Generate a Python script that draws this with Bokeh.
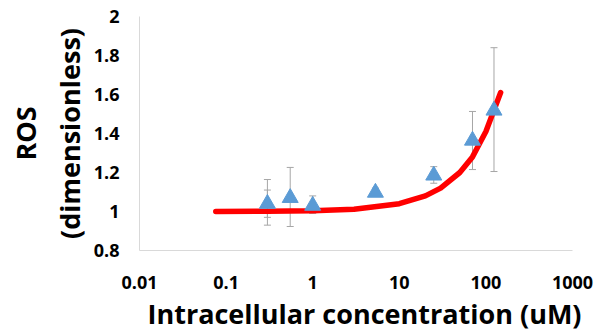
from bokeh.plotting import figure
from bokeh.models import ColumnDataSource, Whisker, TeeHead, FixedTicker, Title
from bokeh.embed import file_html
from bokeh.resources import INLINE

conc = [0.3, 0.55, 1.0, 5.3, 25, 70, 124]
ros = [1.04, 1.07, 1.03, 1.097, 1.185, 1.364, 1.518]
err_hi = [1.164, 1.226, 1.08, 1.12, 1.23, 1.513, 1.84]
err_lo = [0.93, 0.923, 0.99, 1.08, 1.145, 1.215, 1.205]
# second (inner) error bar at the first point
conc2 = [0.3]
err2_hi = [1.11]
err2_lo = [0.97]

# fitted model curve
fit_x = [0.076, 0.3, 1, 3, 10, 20, 30, 50, 70, 100, 148]
fit_y = [1.0, 1.001, 1.004, 1.012, 1.04, 1.08, 1.12, 1.2, 1.28, 1.41, 1.61]

x_ticks = [0.01, 0.1, 1, 10, 100, 1000]
y_ticks = [0.8, 1.0, 1.2, 1.4, 1.6, 1.8, 2.0]

FONT = "Open Sans"

p = figure(width=596, height=335, x_axis_type="log",
           x_range=(0.01, 1000), y_range=(0.8, 2.0),
           frame_width=433, frame_height=234,
           min_border_left=139, min_border_right=24,
           min_border_top=16, min_border_bottom=85,
           output_backend="svg", toolbar_location=None)
p.outline_line_color = None
p.xgrid.visible = False
p.ygrid.visible = False
p.background_fill_color = "white"

for ax in (p.xaxis[0], p.yaxis[0]):
    ax.axis_line_color = "#D9D9D9"
    ax.axis_line_width = 1
    ax.major_tick_line_color = None
    ax.minor_tick_line_color = None
    ax.major_tick_out = 0
    ax.major_tick_in = 0
    ax.minor_tick_out = 0
    ax.minor_tick_in = 0
    ax.major_label_text_font = FONT
    ax.major_label_text_font_style = "bold"
    ax.major_label_text_font_size = "18px"
    ax.major_label_text_color = "#000000"

p.xaxis.ticker = FixedTicker(ticks=x_ticks)
p.xaxis.major_label_overrides = {0.01: "0.01", 0.1: "0.1", 1: "1", 10: "10", 100: "100", 1000: "1000"}
p.yaxis.ticker = FixedTicker(ticks=y_ticks)
p.yaxis.major_label_overrides = {0.8: "0.8", 1.0: "1", 1.2: "1.2", 1.4: "1.4", 1.6: "1.6", 1.8: "1.8", 2.0: "2"}
p.xaxis.major_label_standoff = 25
p.yaxis.major_label_standoff = 20

# x axis title (placed below the axis, nudged right as in the reference)
p.add_layout(Title(text="Intracellular concentration (uM)", align="left", offset=8,
                   text_font=FONT, text_font_style="bold", text_font_size="27px",
                   text_color="#000000", standoff=2), "below")

# two-line y axis title, inner line first
p.add_layout(Title(text="(dimensionless)", align="center", text_font=FONT, text_font_style="bold",
                   text_font_size="27px", text_color="#000000", standoff=6), "left")
p.add_layout(Title(text="ROS", align="center", text_font=FONT, text_font_style="bold",
                   text_font_size="27px", text_color="#000000", standoff=4), "left")

src = ColumnDataSource(dict(x=conc, y=ros, hi=err_hi, lo=err_lo))
src2 = ColumnDataSource(dict(x=conc2, hi=err2_hi, lo=err2_lo))

GRAY = "#A6A6A6"
for s in (src, src2):
    w = Whisker(source=s, base="x", upper="hi", lower="lo", dimension="height",
                line_color=GRAY, line_width=1,
                upper_head=TeeHead(size=7, line_color=GRAY, line_width=1),
                lower_head=TeeHead(size=7, line_color=GRAY, line_width=1))
    p.add_layout(w)

p.line(fit_x, fit_y, line_color="#FF0000", line_width=5.5, line_cap="round", line_join="round")
p.scatter("x", "y", source=src, marker="triangle", size=16,
          fill_color="#5B9BD5", line_color="#5B9BD5")

open("out.html", "w").write(file_html(p, INLINE))
